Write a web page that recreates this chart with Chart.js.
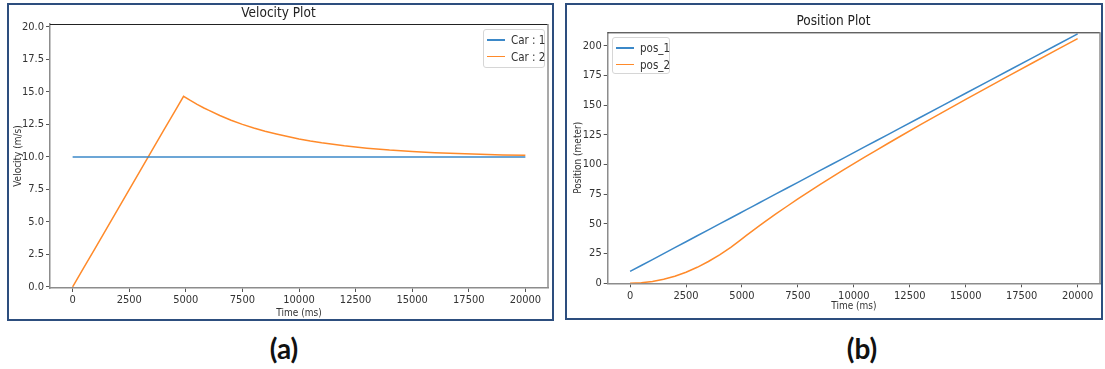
<!DOCTYPE html>
<html>
<head>
<meta charset="utf-8">
<script src="https://cdn.jsdelivr.net/npm/chart.js@4.4.1/dist/chart.umd.min.js"></script>
<style>
  body { margin: 0; width: 1105px; height: 369px; background: #fff; position: relative; overflow: hidden; }
  .panel { position: absolute; border: 2px solid #2d4e7e; background: #fff; }
  #panelA { left: 7px; top: 3px; width: 543px; height: 314px; }
  #panelB { left: 565px; top: 3px; width: 534px; height: 313px; }
  .panel canvas { position: absolute; left: 0; top: 0; }
  .legend { position: absolute; border: 1px solid #d6d6d6; border-radius: 3px; background: rgba(255,255,255,0.8);
            font-family: 'Liberation Sans Narrow', 'DejaVu Sans Condensed', 'Liberation Sans', sans-serif; font-size: 11.5px; color: #333; }
  .legend .row { position: absolute; left: 0; height: 16px; line-height: 16px; white-space: nowrap; }
  .legend .swatch { position: absolute; left: 3px; top: 7px; width: 18px; height: 1.5px; }
  .legend .txt { position: absolute; left: 27px; top: 0; }
  .caption { position: absolute; font-family: Lato, 'Open Sans', sans-serif; font-weight: bold; font-size: 28px; line-height: 34px; color: #111; transform: translateX(-50%); }
</style>
</head>
<body>
<div class="panel" id="panelA">
  <canvas id="velocity-chart" width="543" height="314"></canvas>
  <div class="legend" id="legendA" style="left:474px; top:24px; width:60px; height:37px;"></div>
</div>
<div class="panel" id="panelB">
  <canvas id="position-chart" width="534" height="313"></canvas>
  <div class="legend" id="legendB" style="left:45px; top:32px; width:56px; height:35px;"></div>
</div>
<div class="caption" style="left:284px; top:331px;">(a)</div>
<div class="caption" style="left:862px; top:331px;">(b)</div>

<script>
// Time samples (ms)
const timeMs = [0, 500, 1000, 1500, 2000, 2500, 3000, 3500, 4000, 4500, 4900,
                5200, 5500, 5800, 6000, 6500, 7000, 7500, 8000, 8500, 9000, 9500, 10000,
                10500, 11000, 11500, 12000, 13000, 14000, 15000, 16000, 17000, 18000, 19000, 20000];

// Velocity (m/s)
const velCar1 = [10, 10, 10, 10, 10, 10, 10, 10, 10, 10, 10,
                 10, 10, 10, 10, 10, 10, 10, 10, 10, 10, 10, 10,
                 10, 10, 10, 10, 10, 10, 10, 10, 10, 10, 10, 10];
const velCar2 = [0, 1.50, 2.99, 4.49, 5.99, 7.48, 8.98, 10.48, 11.98, 13.47, 14.67,
                 14.35, 14.05, 13.77, 13.60, 13.19, 12.83, 12.51, 12.23, 11.98, 11.77, 11.57, 11.39,
                 11.23, 11.09, 10.97, 10.86, 10.68, 10.53, 10.42, 10.33, 10.26, 10.21, 10.16, 10.13];

// Position (meter)
const pos1 = [10, 15, 20, 25, 30, 35, 40, 45, 50, 55, 59,
              62, 65, 68, 70, 75, 80, 85, 90, 95, 100, 105, 110,
              115, 120, 125, 130, 140, 150, 160, 170, 180, 190, 200, 210];
const pos2 = [0, 0.37, 1.50, 3.37, 5.99, 9.36, 13.47, 18.34, 23.95, 30.31, 35.94,
              40.29, 44.55, 48.72, 51.45, 58.16, 64.65, 70.99, 77.18, 83.23, 89.16, 94.99, 100.73,
              106.38, 111.96, 117.47, 122.94, 133.71, 144.30, 154.78, 165.16, 175.45, 185.68, 195.87, 206.01];

// Tick labels
const timeTicks = [0, 2500, 5000, 7500, 10000, 12500, 15000, 17500, 20000];
const velTicks = [0, 2.5, 5, 7.5, 10, 12.5, 15, 17.5, 20];
const posTicks = [0, 25, 50, 75, 100, 125, 150, 175, 200];

const velLabels = ['Car : 1', 'Car : 2'];
const posLabels = ['pos_1', 'pos_2'];
const lineColors = ['#3b88c8', '#ff8a2a'];

const FONT = "'Liberation Sans Narrow', 'DejaVu Sans Condensed', 'Liberation Sans', sans-serif";

function toPoints(xs, ys) {
    return xs.map((x, i) => ({ x: x, y: ys[i] }));
}

// Draws the top and right spines of the axes box
const frameBox = {
    id: 'frameBox',
    afterDraw(chart) {
        const a = chart.chartArea;
        const ctx = chart.ctx;
        ctx.save();
        ctx.lineWidth = 1;
        ctx.strokeStyle = '#222';
        ctx.beginPath();
        ctx.moveTo(a.left, a.top + 0.5);
        ctx.lineTo(a.right, a.top + 0.5);
        ctx.stroke();
        ctx.strokeStyle = '#8c8c8c';
        ctx.lineWidth = 1.5;
        ctx.beginPath();
        ctx.moveTo(a.right, a.top);
        ctx.lineTo(a.right, a.bottom);
        ctx.stroke();
        ctx.restore();
    }
};

function buildChart(canvasId, o) {
    const ctx = document.getElementById(canvasId).getContext('2d');
    return new Chart(ctx, {
        type: 'line',
        data: {
            datasets: o.series.map((ys, i) => ({
                label: o.labels[i],
                data: toPoints(timeMs, ys),
                borderColor: lineColors[i],
                backgroundColor: lineColors[i],
                borderWidth: 1.5,
                pointRadius: 0,
                tension: 0,
                fill: false
            }))
        },
        options: {
            responsive: false,
            animation: false,
            devicePixelRatio: 1,
            layout: { padding: { left: 0, right: o.padRight, top: 0, bottom: 0 } },
            plugins: {
                legend: { display: false },
                tooltip: { enabled: false },
                title: {
                    display: true,
                    text: o.title,
                    color: '#222',
                    font: { family: FONT, size: 13.5, weight: 'normal', lineHeight: 1.2 },
                    padding: o.titlePad
                }
            },
            scales: {
                x: {
                    type: 'linear',
                    min: -1000,
                    max: 21000,
                    afterFit: s => { s.height = o.xHeight; },
                    afterBuildTicks: s => { s.ticks = timeTicks.map(v => ({ value: v })); },
                    border: { display: true, color: '#8c8c8c', width: 1.5 },
                    grid: { drawOnChartArea: false, drawTicks: true, tickLength: 4, color: '#555' },
                    ticks: { color: '#333', padding: 2, maxRotation: 0, autoSkip: false,
                             font: { family: FONT, size: 11 }, callback: v => String(v) },
                    title: { display: true, text: 'Time (ms)', color: '#333',
                             font: { family: FONT, size: 10, lineHeight: 1.2 },
                             padding: { top: 0, bottom: o.xTitleBottom } }
                },
                y: {
                    type: 'linear',
                    min: o.yMin,
                    max: o.yMax,
                    afterFit: s => { s.width = o.yWidth; },
                    afterBuildTicks: s => { s.ticks = o.yTicks.map(v => ({ value: v })); },
                    border: { display: true, color: '#8c8c8c', width: 1.5 },
                    grid: { drawOnChartArea: false, drawTicks: true, tickLength: 4, color: '#555' },
                    ticks: { color: '#333', padding: 2, autoSkip: false,
                             font: { family: FONT, size: 11 }, callback: o.yFormat },
                    title: { display: true, text: o.yTitle, color: '#333',
                             font: { family: FONT, size: 10, lineHeight: 1.2 },
                             padding: { top: o.yTitleTop, bottom: 0 } }
                }
            }
        },
        plugins: [frameBox]
    });
}

function buildLegend(id, labels) {
    const box = document.getElementById(id);
    labels.forEach((name, i) => {
        const row = document.createElement('div');
        row.className = 'row';
        row.style.top = (2 + i * 16.5) + 'px';
        const sw = document.createElement('span');
        sw.className = 'swatch';
        sw.style.background = lineColors[i];
        const txt = document.createElement('span');
        txt.className = 'txt';
        txt.textContent = name;
        row.appendChild(sw);
        row.appendChild(txt);
        box.appendChild(row);
    });
}

buildChart('velocity-chart', {
    series: [velCar1, velCar2],
    labels: velLabels,
    title: 'Velocity Plot',
    titlePad: { top: 0, bottom: 2.8 },
    padRight: 4,
    xHeight: 31,
    xTitleBottom: 0,
    yWidth: 41,
    yMin: -0.08,
    yMax: 20.23,
    yTicks: velTicks,
    yFormat: v => Number(v).toFixed(1),
    yTitle: 'Velocity (m/s)',
    yTitleTop: 3
});

buildChart('position-chart', {
    series: [pos1, pos2],
    labels: posLabels,
    title: 'Position Plot',
    titlePad: { top: 8.4, bottom: 2.7 },
    padRight: 1,
    xHeight: 34.7,
    xTitleBottom: 5.5,
    yWidth: 40.7,
    yMin: 0,
    yMax: 211.3,
    yTicks: posTicks,
    yFormat: v => String(v),
    yTitle: 'Position (meter)',
    yTitleTop: 5
});

buildLegend('legendA', velLabels);
buildLegend('legendB', posLabels);
</script>
</body>
</html>
